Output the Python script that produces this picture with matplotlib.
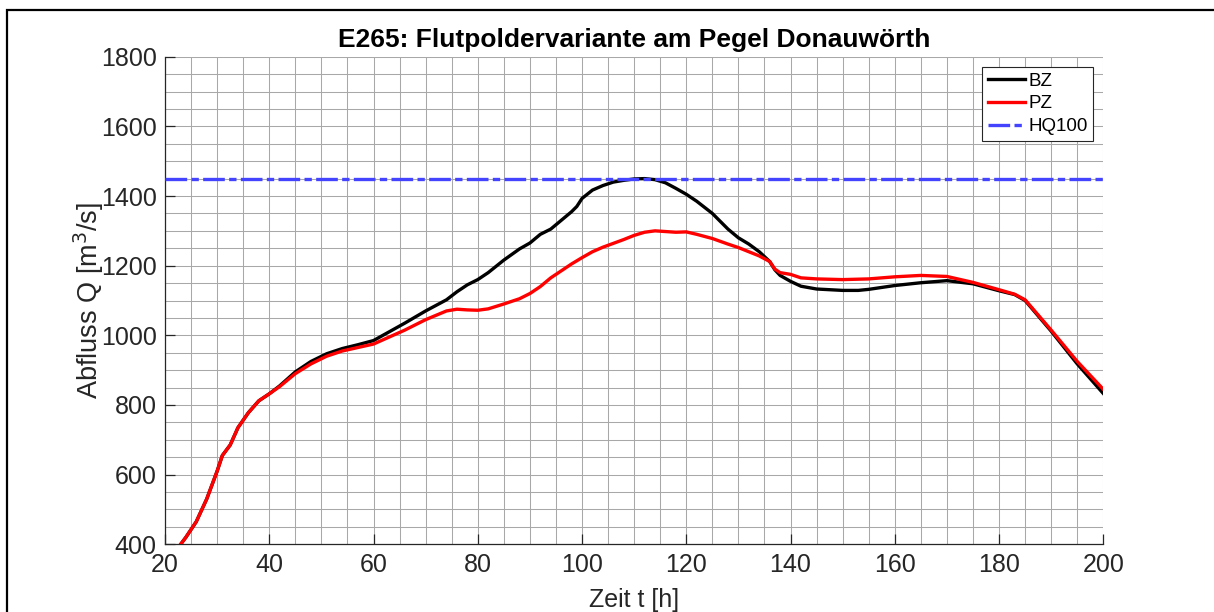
import matplotlib
matplotlib.use("Agg")
import matplotlib.pyplot as plt
from matplotlib.patches import Rectangle
from matplotlib.ticker import MultipleLocator

plt.rcParams['font.family'] = ['Liberation Sans', 'DejaVu Sans']

# Discharge hydrographs (time in hours, discharge in m^3/s)
t_bz = [23, 24, 26, 28, 30, 31, 32.5, 34, 36, 38, 40, 42, 45, 48, 51, 54, 57, 60,
        63, 66, 70, 74, 76, 78, 80, 82, 85, 88, 90, 92, 94, 96, 98, 99, 100, 102,
        104, 106, 108, 110, 112, 114, 116, 118, 120, 122, 125, 128, 130, 132, 134,
        136, 137, 138, 140, 142, 145, 150, 153, 155, 160, 165, 170, 175, 180, 183,
        185, 190, 195, 200]
q_bz = [400, 420, 465, 530, 610, 655, 685, 735, 778, 812, 832, 855, 895, 925, 947,
        962, 973, 985, 1010, 1035, 1070, 1102, 1125, 1145, 1160, 1180, 1216, 1248,
        1265, 1290, 1305, 1330, 1355, 1370, 1393, 1417, 1430, 1440, 1445, 1449, 1450,
        1447, 1438, 1422, 1405, 1385, 1350, 1305, 1280, 1262, 1240, 1212, 1188, 1172,
        1155, 1141, 1133, 1129, 1129, 1132, 1143, 1151, 1157, 1148, 1128, 1117, 1100,
        1012, 918, 833]

t_pz = [23, 24, 26, 28, 30, 31, 32.5, 34, 36, 38, 40, 42, 45, 48, 51, 54, 57, 60,
        63, 66, 70, 74, 76, 78, 80, 82, 85, 88, 90, 92, 94, 96, 98, 100, 102, 104,
        106, 108, 110, 112, 114, 116, 118, 120, 122, 125, 128, 130, 132, 134, 136,
        137, 138, 140, 142, 145, 150, 155, 160, 165, 170, 175, 180, 183, 185, 190,
        195, 200]
q_pz = [400, 420, 465, 530, 610, 655, 685, 735, 778, 812, 832, 853, 890, 918, 940,
        955, 965, 975, 995, 1015, 1045, 1070, 1075, 1073, 1072, 1076, 1090, 1105,
        1120, 1140, 1165, 1185, 1205, 1223, 1240, 1253, 1264, 1275, 1287, 1296, 1300,
        1298, 1296, 1297, 1290, 1278, 1262, 1252, 1240, 1228, 1212, 1190, 1180, 1175,
        1165, 1162, 1160, 1162, 1168, 1172, 1169, 1152, 1131, 1118, 1102, 1015, 925,
        845]

hq100 = 1450
x_ticks = [20, 40, 60, 80, 100, 120, 140, 160, 180, 200]
y_ticks = [400, 600, 800, 1000, 1200, 1400, 1600, 1800]

W, H = 1214, 612
fig = plt.figure(figsize=(W / 100, H / 100), dpi=100)
ax = fig.add_axes([165 / W, 1 - 544.3 / H, (1103.3 - 165) / W, (544.3 - 56.7) / H])

# outer frame of the figure (right and bottom edges lie outside the canvas)
top = 1 - 10 / H
fig.patches.append(Rectangle((7 / W, -0.1), 1.2, top + 0.1,
                             transform=fig.transFigure, fill=False,
                             edgecolor='black', linewidth=1.6, clip_on=False))

ax.plot(t_bz, q_bz, color='black', linewidth=2.4, label='BZ', zorder=3)
ax.plot(t_pz, q_pz, color='#ff0000', linewidth=2.4, label='PZ', zorder=4)
ax.axhline(hq100, color='#4444ff', linewidth=2.4, dashes=(6.5, 1.3, 2.2, 1.3),
           label='HQ100', zorder=5)

ax.set_xlim(20, 200)
ax.set_ylim(400, 1800)
ax.set_xticks(x_ticks)
ax.set_yticks(y_ticks)
ax.xaxis.set_minor_locator(MultipleLocator(5))
ax.yaxis.set_minor_locator(MultipleLocator(50))

ax.set_axisbelow(True)
ax.grid(True, which='both', color='#a8a8a8', linewidth=0.75)

for s in ['top', 'right']:
    ax.spines[s].set_visible(False)
for s in ['left', 'bottom']:
    ax.spines[s].set_color('#262626')
    ax.spines[s].set_linewidth(0.9)

ax.tick_params(which='major', direction='in', length=7.5, width=0.9,
               color='#262626', labelcolor='#262626', labelsize=18, pad=6)
ax.tick_params(which='minor', length=0)

ax.set_xlabel('Zeit t [h]', fontsize=18, color='#262626', labelpad=8)
ax.set_ylabel('Abfluss Q [m$^3$/s]', fontsize=19.5, color='#262626', labelpad=-4)
ax.set_title('E265: Flutpoldervariante am Pegel Donauwörth', fontsize=19,
             fontweight='bold', pad=7)

leg = ax.legend(loc='upper right', bbox_to_anchor=(1093 / W, 1 - 67 / H),
                bbox_transform=fig.transFigure, fontsize=13.5, frameon=True,
                fancybox=False, framealpha=1, edgecolor='#262626',
                handlelength=2.0, handletextpad=0.15, labelspacing=0.3,
                borderpad=0.3, borderaxespad=0)
leg.get_frame().set_linewidth(0.8)

fig.savefig('out.png', dpi=100)
